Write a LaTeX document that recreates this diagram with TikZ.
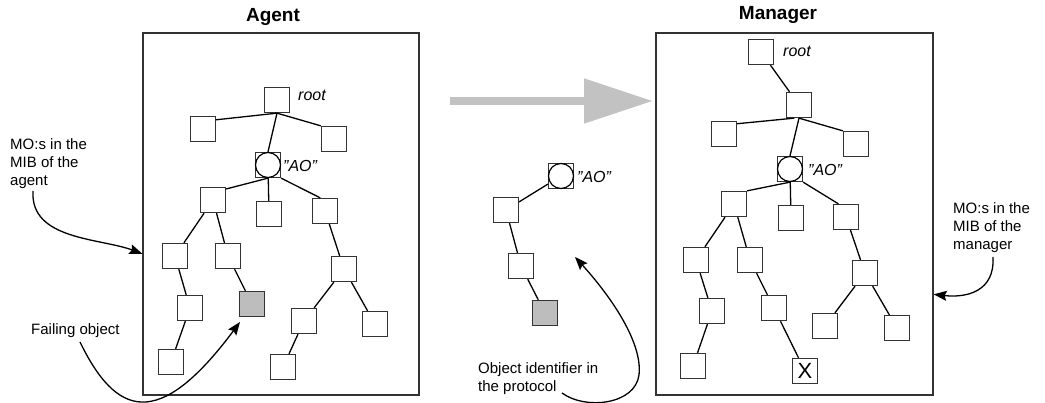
\documentclass[tikz,border=0pt]{standalone}
\usepackage{fontspec}
\setmainfont{Liberation Sans}
\usetikzlibrary{arrows.meta}
\definecolor{boxline}{gray}{0.2}
\definecolor{failfill}{gray}{0.74}
\definecolor{bigarrow}{gray}{0.76}
\begin{document}
\begin{tikzpicture}[x=1pt,y=-1pt,
  obj/.style={draw=boxline, fill=white, line width=1.3pt, minimum size=25pt, inner sep=0pt},
  failobj/.style={obj, fill=failfill},
  aoring/.style={circle, draw=black, fill=white, line width=1.2pt, minimum size=25pt, inner sep=0pt},
  link/.style={line width=1.3pt},
  panel/.style={draw=boxline, line width=1.3pt, minimum width=276pt, minimum height=362pt, inner sep=0pt},
  title/.style={font=\bfseries\fontsize{19}{22}\selectfont},
  note/.style={font=\fontsize{15}{18}\selectfont, align=left, inner sep=0pt, anchor=north west},
  lbl/.style={font=\itshape\fontsize{16}{19}\selectfont, inner sep=0pt, anchor=west},
  pointer/.style={line width=1.3pt, -{Stealth[length=13pt,width=10pt,inset=2pt]}},
]
\useasboundingbox (0,0) rectangle (1045,403);

% panels and titles
\node[panel] (agentbox) at (281,214) {};
\node[panel, minimum width=277pt] (mgrbox) at (794.5,214) {};
\node[title] (agenttitle) at (273,17) {Agent};
\node[title] (mgrtitle) at (778,15) {Manager};

% ---------- agent tree ----------
\node[obj] (a0) at (277,100) {};
\node[lbl] (a0l) at (298,95) {root};
\node[obj] (a1) at (203,129) {};
\node[obj] (a2) at (334,139) {};
\node[obj] (aa) at (268,165) {};
\node[aoring] (aaring) at (aa) {};
\node[lbl] (aal) at (283,166) {"AO"};
\node[obj] (a3) at (213,200) {};
\node[obj] (a4) at (269,214) {};
\node[obj] (a5) at (325,211) {};
\node[obj] (a6) at (175,256) {};
\node[obj] (a7) at (228,256) {};
\node[obj] (a8) at (344,269) {};
\node[obj] (a9) at (190,308) {};
\node[failobj] (a10) at (252,304) {};
\node[obj] (a11) at (304,321) {};
\node[obj] (a12) at (375,324) {};
\node[obj] (a13) at (171,362) {};
\node[obj] (a14) at (283,367) {};

\draw[link] (a0.south) -- (a1.35);
\draw[link] (a0.south) -- (a2.north west);
\draw[link] (a0.south) -- (aa.north);
\draw[link] (aa.south) -- (a3.40);
\draw[link] (aa) -- (a4);
\draw[link] (aa.south east) -- (a5.110);
\draw[link] (a3) -- (a6);
\draw[link] (a3) -- (a7);
\draw[link] (a6) -- (a9);
\draw[link] (a9) -- (a13);
\draw[link] (a7) -- (a10);
\draw[link] (a5) -- (a8);
\draw[link] (a8) -- (a11);
\draw[link] (a8) -- (a12);
\draw[link] (a11) -- (a14);

% ---------- protocol (middle) ----------
\coordinate (gs) at (450,101);
\coordinate (ge) at (653,101);
\draw[bigarrow, line width=8pt, -{Triangle[length=69pt,width=43pt]}] (gs) -- (ge);

\node[obj] (m0) at (561,176) {};
\node[aoring] (m0ring) at (m0) {};
\node[lbl] (m0l) at (577,177) {"AO"};
\node[obj] (m1) at (506,210) {};
\node[obj] (m2) at (521,266) {};
\node[failobj] (m3) at (545,313) {};
\draw[link] (m0) -- (m1);
\draw[link] (m1) -- (m2);
\draw[link] (m2) -- (m3);

% ---------- manager tree ----------
\node[obj] (r0) at (761,52) {};
\node[lbl] (r0l) at (783,51) {root};
\node[obj] (r1) at (799,105) {};
\node[obj] (r2) at (724,134) {};
\node[obj] (r3) at (856,144) {};
\node[obj] (ra) at (790,169) {};
\node[aoring] (raring) at (ra) {};
\node[lbl] (ral) at (808,170) {"AO"};
\node[obj] (r4) at (734,204) {};
\node[obj] (r5) at (791,218) {};
\node[obj] (r6) at (846,217) {};
\node[obj] (r7) at (696,260) {};
\node[obj] (r8) at (750,260) {};
\node[obj] (r9) at (865,273) {};
\node[obj] (r10) at (712,311) {};
\node[obj] (r11) at (774,308) {};
\node[obj] (r12) at (825,326) {};
\node[obj] (r13) at (897,328) {};
\node[obj] (r14) at (693,366) {};
\node[obj, font=\fontsize{22}{22}\selectfont] (r15) at (805,371) {X};

\draw[link] (r0) -- (r1);
\draw[link] (r1.250) -- (r2.38);
\draw[link] (r1.south) -- (r3.north west);
\draw[link] (r1.south) -- (ra.north);
\draw[link] (ra.south) -- (r4.north east);
\draw[link] (ra) -- (r5);
\draw[link] (ra.south east) -- (r6.120);
\draw[link] (r4) -- (r7);
\draw[link] (r4) -- (r8);
\draw[link] (r7) -- (r10);
\draw[link] (r10) -- (r14);
\draw[link] (r8) -- (r11);
\draw[link] (r11) -- (r15);
\draw[link] (r6) -- (r9);
\draw[link] (r9) -- (r12);
\draw[link] (r9) -- (r13);

% ---------- annotations ----------
\node[note] (agentnote) at (10,138) {MO:s in the\\MIB of the\\agent};
\coordinate (agentnoteend) at (33,191);
\draw[pointer] (agentnoteend) .. controls (30,240) and (100,238) .. (agentbox.196);

\node[note, anchor=base west] (failnote) at (31,335) {Failing object};
\coordinate (failstart) at (80,342);
\coordinate (failtip) at (240,322);
\draw[pointer] (failstart) .. controls (116,416) and (158,432) .. (failtip);

\node[note, font=\fontsize{15}{18.5}\selectfont] (oidnote) at (478,362) {Object identifier in\\the protocol};
\coordinate (oidstart) at (562,393);
\coordinate (oidtip) at (575,257);
\draw[pointer] (oidstart) .. controls (585,410) and (635,405) .. (639,375) .. controls (643,340) and (606,291) .. (oidtip);

\node[note] (mgrnote) at (953,202) {MO:s in the\\MIB of the\\manager};
\coordinate (mgrnoteend) at (993,257);
\draw[pointer] (mgrnoteend) .. controls (995,292) and (966,298) .. (mgrbox.-30);
\end{tikzpicture}
\end{document}
